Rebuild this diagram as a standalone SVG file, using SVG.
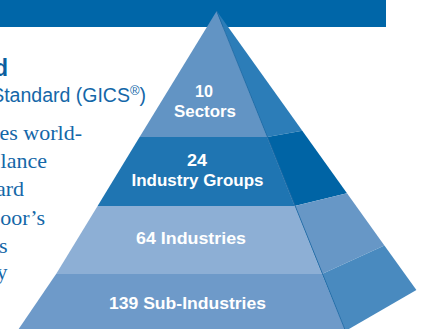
<svg xmlns="http://www.w3.org/2000/svg" width="421" height="329" viewBox="0 0 421 329">
  <style>
    .lbl { font-family: "Liberation Sans", Arial, sans-serif; font-weight: bold; font-size: 17px; fill: #ffffff; text-anchor: middle; }
    .sub { font-family: "Liberation Sans", Arial, sans-serif; font-size: 19.5px; fill: #1467a8; text-anchor: end; }
    .head { font-family: "Liberation Sans", Arial, sans-serif; font-weight: bold; font-size: 23px; fill: #0b5fa0; text-anchor: end; }
    .body { font-family: "Liberation Serif", "Times New Roman", serif; font-size: 22px; fill: #1467a8; text-anchor: end; }
  </style>

  <!-- header band -->
  <rect id="banner" x="0" y="0" width="386" height="27" fill="#0066a8"/>

  <!-- left column text, clipped by the page edge -->
  <g id="intro">
    <text class="head" x="8" y="76">d</text>
    <text class="sub" x="146" y="102">Standard (GICS<tspan font-size="13" dy="-7">®</tspan><tspan dy="7">)</tspan></text>
    <text class="body" x="82" y="140">es world-</text>
    <text class="body" x="47" y="168">lance</text>
    <text class="body" x="24" y="196">ard</text>
    <text class="body" x="45" y="225">oor’s</text>
    <text class="body" x="7.5" y="253">s</text>
    <text class="body" x="7.5" y="279">y</text>
  </g>

  <!-- pyramid tiers: front face + side face -->
  <g id="tier-sectors">
    <polygon points="216.7,11 267.1,137 139.6,137" fill="#6294c4"/>
    <polygon points="216.7,11 302.3,130.8 267.1,137" fill="#2c7db8"/>
    <text class="lbl" x="204" y="97" textLength="18" lengthAdjust="spacingAndGlyphs">10</text>
    <text class="lbl" x="205" y="117" textLength="62" lengthAdjust="spacingAndGlyphs">Sectors</text>
  </g>
  <g id="tier-industry-groups">
    <polygon points="139.6,137 267.1,137 294.7,206 97.6,206" fill="#1f75b2"/>
    <polygon points="267.1,137 302.3,130.8 347,193.3 294.7,206" fill="#0064a5"/>
    <text class="lbl" x="197" y="166" textLength="20" lengthAdjust="spacingAndGlyphs">24</text>
    <text class="lbl" x="197.5" y="186" textLength="132" lengthAdjust="spacingAndGlyphs">Industry Groups</text>
  </g>
  <g id="tier-industries">
    <polygon points="97.6,206 294.7,206 321.9,274 56.1,274" fill="#8dafd5"/>
    <polygon points="294.7,206 347,193.3 384.4,245.5 321.9,274" fill="#6797c6"/>
    <text class="lbl" x="191" y="244" textLength="110" lengthAdjust="spacingAndGlyphs">64 Industries</text>
  </g>
  <g id="tier-sub-industries">
    <polygon points="56.1,274 321.9,274 345.5,331 17.3,331" fill="#6e9ac9"/>
    <polygon points="321.9,274 384.4,245.5 416.4,290 345.5,331" fill="#498abf"/>
    <text class="lbl" x="187.5" y="309" textLength="157" lengthAdjust="spacingAndGlyphs">139 Sub-Industries</text>
  </g>

  <!-- front/side ridge -->
  <g id="edges">
    <line x1="216.7" y1="11" x2="345.5" y2="331" stroke="#1f6aa5" stroke-width="0.9"/>
  </g>
</svg>
